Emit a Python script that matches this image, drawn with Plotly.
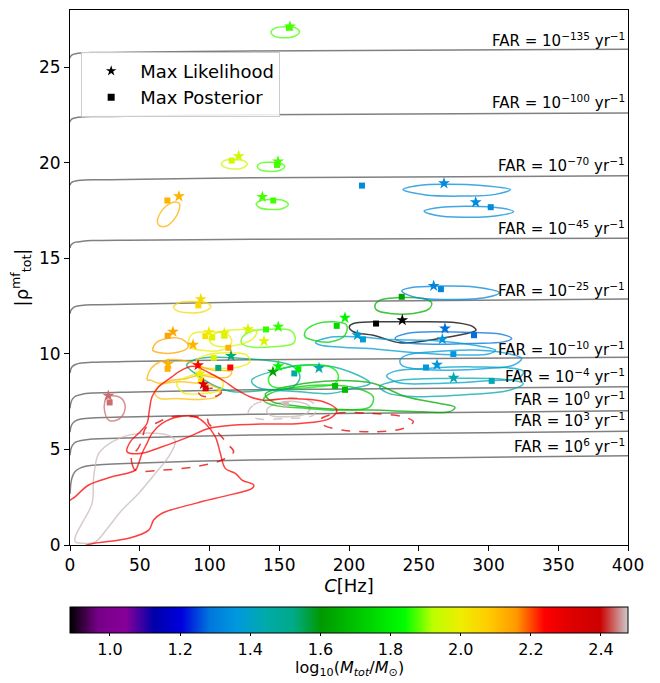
import plotly.graph_objects as go
from plotly.colors import sample_colorscale

# ---------------- colour map (nipy_spectral) ----------------
nipy_pos = [0.0, 0.05, 0.10, 0.15, 0.20, 0.25, 0.30, 0.35, 0.40, 0.45, 0.50,
            0.55, 0.60, 0.65, 0.70, 0.75, 0.80, 0.85, 0.90, 0.95, 1.0]
nipy_r = [0.0, 0.4667, 0.5333, 0.0, 0.0, 0.0, 0.0, 0.0, 0.0, 0.0, 0.0, 0.0, 0.0,
          0.7333, 0.9333, 1.0, 1.0, 1.0, 0.8667, 0.80, 0.80]
nipy_g = [0.0, 0.0, 0.0, 0.0, 0.0, 0.4667, 0.6, 0.6667, 0.6667, 0.6, 0.7333, 0.8667,
          1.0, 1.0, 0.9333, 0.8, 0.6, 0.0, 0.0, 0.0, 0.8]
nipy_b = [0.0, 0.5333, 0.6, 0.6667, 0.8667, 0.8667, 0.8667, 0.6667, 0.5333, 0.0, 0.0,
          0.0, 0.0, 0.0, 0.0, 0.0, 0.0, 0.0, 0.0, 0.0, 0.8]
nipy = [[p, "rgb(%d,%d,%d)" % (round(r * 255), round(g * 255), round(b * 255))]
        for p, r, g, b in zip(nipy_pos, nipy_r, nipy_g, nipy_b)]
LOGM_MIN, LOGM_MAX = 0.886, 2.477

# ---------------- FAR threshold curves ----------------
far_C = [0, 0.7, 2, 4, 8, 16, 40, 130, 400]
far_labels = ["−135", "−100", "−70", "−45", "−25", "−10", "−4", "0", "3", "6"]
far_m135 = [25.49, 25.60, 25.67, 25.71, 25.75, 25.77, 25.79, 25.86, 25.94]
far_m100 = [22.14, 22.25, 22.32, 22.36, 22.40, 22.42, 22.44, 22.52, 22.61]
far_m70 = [18.83, 18.94, 19.01, 19.05, 19.09, 19.11, 19.13, 19.22, 19.32]
far_m45 = [15.55, 15.70, 15.79, 15.85, 15.89, 15.93, 15.95, 16.00, 16.06]
far_m25 = [12.10, 12.29, 12.40, 12.48, 12.53, 12.57, 12.60, 12.72, 12.87]
far_m10 = [9.00, 9.23, 9.36, 9.45, 9.52, 9.56, 9.60, 9.70, 9.82]
far_m4 = [7.15, 7.47, 7.66, 7.79, 7.88, 7.95, 8.00, 8.12, 8.28]
far_p0 = [5.90, 6.20, 6.38, 6.50, 6.59, 6.65, 6.70, 6.84, 7.02]
far_p3 = [4.70, 5.04, 5.24, 5.38, 5.47, 5.55, 5.60, 5.76, 5.95]
far_p6 = [2.67, 3.28, 3.63, 3.87, 4.05, 4.17, 4.27, 4.45, 4.67]
far_label_rho = [26.41, 23.17, 19.87, 16.58, 13.34, 10.25, 8.84, 7.64, 6.54, 5.18]

# ---------------- contours (C [Hz], |rho|) ----------------
c_e1_C = [144, 147, 154, 162, 164.5, 160, 152, 146]
c_e1_r = [26.85, 27.05, 27.12, 27.05, 26.85, 26.6, 26.55, 26.65]
c_e2_C = [108.5, 111, 118, 125, 127, 123, 115, 110]
c_e2_r = [19.95, 20.13, 20.18, 20.1, 19.92, 19.72, 19.69, 19.8]
c_e3_C = [134.3, 137, 144, 151, 153.9, 150, 142, 136]
c_e3_r = [19.82, 20.0, 20.03, 19.98, 19.8, 19.6, 19.56, 19.65]
c_e4_C = [62.6, 64.5, 68.8, 74.1, 78.4, 77.7, 74.1, 68.8, 64.0]
c_e4_r = [16.91, 17.35, 17.73, 17.94, 17.87, 17.43, 17.0, 16.68, 16.72]
c_e5_C = [133.5, 137, 145, 153, 156.5, 152, 143, 136]
c_e5_r = [17.85, 18.03, 18.08, 18.03, 17.82, 17.6, 17.56, 17.65]
c_e6_C = [238.7, 250, 270, 295, 315.7, 305, 280, 255]
c_e6_r = [18.6, 18.82, 18.88, 18.82, 18.6, 18.35, 18.26, 18.32]
c_e7_C = [253.8, 262, 285, 310, 318, 305, 282, 262]
c_e7_r = [17.48, 17.64, 17.73, 17.62, 17.45, 17.22, 17.15, 17.26]
c_e8_C = [74.2, 78, 88, 98, 101, 96, 85, 77]
c_e8_r = [12.45, 12.68, 12.75, 12.68, 12.48, 12.22, 12.15, 12.25]
c_gr_C = [218.6, 222.2, 237.8, 253.3, 259.3, 256.9, 246.1, 229.4, 219.9]
c_gr_r = [12.55, 12.81, 12.95, 12.9, 12.67, 12.33, 12.12, 12.12, 12.29]
c_b1_C = [237.8, 245, 265, 290, 307.7, 298, 270, 248]
c_b1_r = [13.3, 13.48, 13.55, 13.5, 13.2, 12.95, 12.85, 12.95]
c_blk_C = [200.2, 203.1, 217.4, 241.4, 277.2, 289.1, 291, 284.4, 265.2, 248.5, 236.6, 217.4, 203.1]
c_blk_r = [11.42, 11.59, 11.68, 11.68, 11.63, 11.42, 11.24, 11.07, 10.81, 10.63, 10.58, 10.98, 11.16]
c_b2_C = [233, 241.4, 265.2, 289.1, 308.2, 316.6, 310.6, 289.1, 265.2, 241.4]
c_b2_r = [10.81, 11.07, 11.16, 11.12, 11.04, 10.81, 10.63, 10.55, 10.51, 10.58]
c_lb1_C = [176, 185, 205, 230, 260, 290, 305, 300, 280, 250, 220, 195, 180]
c_lb1_r = [10.6, 10.85, 10.9, 10.75, 10.7, 10.45, 10.2, 10.0, 9.95, 10.05, 10.25, 10.35, 10.45]
c_lb2_C = [236.6, 241.4, 260.5, 289.1, 313, 323.8, 317.8, 298.7, 272.4, 246.1, 237.8]
c_lb2_r = [9.68, 9.94, 10.11, 10.2, 10.03, 9.76, 9.41, 9.24, 9.15, 9.24, 9.41]
c_lb3_C = [227, 233, 257, 290, 325, 322, 300, 260, 235]
c_lb3_r = [8.85, 9.1, 9.25, 9.32, 9.1, 8.75, 8.6, 8.45, 8.5]
c_lb4_C = [222, 235, 270, 310, 325, 315, 280, 250, 228]
c_lb4_r = [8.3, 8.6, 8.72, 8.68, 8.45, 8.1, 7.85, 7.76, 7.95]
c_t1_C = [83.6, 88.4, 100.4, 124.2, 148.2, 160.1, 164.9, 160.1, 141, 117.1, 105.2, 93.2]
c_t1_r = [9.41, 9.67, 9.82, 9.76, 9.59, 9.33, 8.8, 8.28, 8.11, 8.02, 8.28, 8.8]
c_t2_C = [130.2, 148.2, 164.9, 193.5, 215, 203.1, 186.4, 164.9, 133.8]
c_t2_r = [8.63, 9.15, 9.41, 9.24, 8.46, 8.2, 7.93, 8.02, 8.28]
c_g1_C = [142.2, 145.7, 157.7, 169.7, 186.4, 192.3, 190, 176.8, 157.7, 144.6]
c_g1_r = [8.63, 9.07, 9.33, 9.41, 9.33, 8.89, 8.46, 8.28, 8.2, 8.32]
c_g2_C = [138.6, 143.4, 157.7, 181.6, 205.5, 217.4, 215, 193.5, 169.7, 145.7]
c_g2_r = [7.58, 7.93, 8.2, 8.37, 8.2, 7.76, 7.23, 7.06, 7.15, 7.32]
c_g3_C = [140, 160, 190, 217, 241, 265, 276, 272, 253, 217, 190, 160, 145]
c_g3_r = [7.9, 8.35, 8.6, 8.46, 7.76, 7.41, 7.2, 6.97, 6.97, 7.06, 7.1, 7.3, 7.5]
c_y1_C = [84.8, 88.4, 100.4, 112.3, 115.9, 109.9, 93.2, 86]
c_y1_r = [10.63, 11.07, 11.16, 11.07, 10.63, 10.23, 10.2, 10.37]
c_y2_C = [100.4, 107.5, 124.2, 133.8, 131.4, 119.5, 105.2, 100.4]
c_y2_r = [10.9, 11.16, 11.28, 11.21, 10.81, 10.46, 10.41, 10.63]
c_g4_C = [123.1, 129, 141, 157.7, 161.3, 160.1, 145.7, 129, 123.1]
c_g4_r = [10.81, 11.16, 11.28, 11.24, 10.9, 10.55, 10.37, 10.37, 10.55]
c_g5_C = [168.5, 174.4, 188.7, 198.3, 197.1, 186.4, 174.4, 168.5]
c_g5_r = [11.16, 11.51, 11.68, 11.51, 10.98, 10.63, 10.72, 10.9]
c_y3_C = [90.8, 98, 112.3, 126.7, 129, 121.9, 107.5, 93.2]
c_y3_r = [9.68, 9.94, 10.06, 9.94, 9.59, 9.33, 9.24, 9.33]
c_o1_C = [59.3, 62, 69.3, 76.5, 82, 84.8, 78, 64.5]
c_o1_r = [10.2, 10.6, 10.81, 10.84, 10.7, 10.37, 10.1, 10.06]
c_o2_C = [55.4, 57.3, 64.5, 74, 85, 95, 102.7, 115.9, 113.5, 102.7, 93.2, 83.6, 74, 64.5, 57.3]
c_o2_r = [8.63, 9.15, 9.59, 9.71, 9.6, 9.3, 9.15, 9.06, 8.8, 8.77, 8.89, 8.72, 8.63, 8.46, 8.63]
c_o3_C = [60.9, 64.5, 76.5, 88.4, 100.4, 107.5, 105.2, 93.2, 76.5, 64.5]
c_o3_r = [7.93, 8.37, 8.54, 8.49, 8.37, 8.11, 7.76, 7.62, 7.67, 7.67]
c_y4_C = [76.5, 83.6, 93.2, 105.2, 109.9, 107.5, 95.6, 81.2]
c_y4_r = [8.46, 8.8, 8.94, 8.8, 8.46, 8.11, 7.93, 7.97]
c_r1_C = [40.9, 43.2, 50.4, 55.2, 56.9, 58.8, 63.6, 73.1, 77.9, 88, 100, 110, 120, 129,
          138.6, 157.7, 181.6, 191.2, 186.4, 164.9, 137.6, 118.5, 99.4, 85.1, 66, 50.4]
c_r1_r = [4.88, 5.4, 5.93, 6.36, 7.06, 7.76, 8.28, 8.8, 9.06, 9.35, 9.0, 8.6, 8.1, 7.76,
          7.58, 7.67, 7.5, 7.06, 6.63, 6.36, 6.33, 6.28, 6.1, 5.66, 5.14, 4.79]
c_r2_C = [-3, 3.8, 13.4, 30.1, 46.8, 49.2, 51.6, 55.2, 58.8, 66, 77.9, 89.8, 97, 104.2,
          107.8, 111.3, 118.5, 123.3, 131.7, 130.5, 113.7, 89.8, 66, 60, 56.4, 42, 12.2, 5, -3]
c_r2_r = [2.1, 2.53, 3.14, 3.57, 3.92, 4.27, 4.79, 5.32, 5.84, 6.36, 6.71, 6.71, 6.36, 5.66,
          4.79, 4.01, 3.75, 3.4, 3.14, 2.96, 2.61, 2.18, 1.66, 1.31, 0.78, 0.35, 0.0, -0.3, -0.3]
c_rd1_C = [44.4, 44.4, 46.8, 66, 89.8, 109, 117.3, 113.7, 106.6, 99.4, 98.2, 89.8, 73.1, 61.2, 54, 51.6, 48]
c_rd1_r = [4.79, 4.27, 3.92, 3.92, 4.1, 4.45, 4.88, 5.23, 5.84, 6.36, 6.62, 6.71, 6.71, 6.36, 6.1, 5.49, 4.97]
c_rd2_C = [179.2, 191.2, 215, 238.9, 246.1, 238.9, 219.8, 195.9, 181.6]
c_rd2_r = [6.54, 6.89, 6.89, 6.71, 6.45, 6.1, 5.93, 6.01, 6.28]
c_rd3_C = [92.3, 96, 101, 106.5, 108.5, 105, 99, 94]
c_rd3_r = [7.98, 8.12, 8.2, 8.15, 7.97, 7.8, 7.76, 7.82]
c_gy1_C = [3.8, 8.6, 18, 27.7, 37.3, 49.2, 61.2, 70.7, 75.5, 73.1, 63.6, 42.1, 30.1, 20.6, 17, 15.8, 8.6, 3.8]
c_gy1_r = [0.17, 0.09, 0.15, 0.96, 1.83, 2.7, 3.75, 4.62, 5.4, 5.66, 5.84, 5.75, 5.4, 4.79, 3.57, 2.18, 1.13, 0.43]
c_gy2_C = [141, 148.2, 162.5, 172, 169.7, 155.3, 143.4]
c_gy2_r = [7.06, 7.41, 7.5, 7.23, 6.89, 6.71, 6.8]
c_gy3_C = [127.8, 131.4, 143.4, 167.2, 176.8, 174.4, 155.3, 133.8]
c_gy3_r = [6.89, 7.32, 7.58, 7.67, 7.23, 6.8, 6.62, 6.62]
c_rose_C = [26.5, 34.9, 39.2, 38.5, 33.7, 27.7, 24.9, 24.9]
c_rose_r = [7.76, 7.76, 7.41, 6.89, 6.54, 6.54, 6.97, 7.5]

# ---------------- Max-likelihood (stars) and max-posterior (squares) ----------------
star_C = [157.7, 120.9, 149.1, 78.1, 137.9, 268.1, 290.8, 93.7, 73.8, 88.2, 99.6, 110.6,
          127.6, 149.3, 139.1, 197.1, 238.2, 260.7, 268.8, 206, 266.9, 263.1, 275, 115.4,
          91.8, 70.3, 93.2, 95.6, 145.5, 149.3, 178.5, 27.5]
star_rho = [27.14, 20.35, 20.07, 18.25, 18.22, 18.93, 17.94, 12.87, 11.16, 10.48, 11.14, 11.09,
            11.30, 11.42, 10.67, 11.89, 11.77, 13.56, 11.33, 10.98, 10.77, 9.43, 8.75, 9.9,
            9.41, 9.48, 8.98, 8.42, 9.07, 9.36, 9.26, 7.81]
star_logM = [1.87, 1.95, 1.87, 2.12, 1.87, 1.33, 1.33, 2.05, 2.14, 2.12, 2.0, 1.98,
             1.96, 1.86, 1.97, 1.82, 0.886, 1.32, 1.28, 1.38, 1.36, 1.36, 1.43, 1.53,
             2.24, 2.12, 2.0, 2.34, 1.62, 1.82, 1.45, 2.44]
sq_C = [157, 115.9, 148.4, 69.8, 145.7, 209.3, 301.6, 92, 70, 97, 102, 110.6, 113.5, 140.5,
        191.2, 219.4, 265.9, 237.8, 289.6, 210, 274.8, 255.2, 302.3, 103, 106.3, 114.9, 70,
        94.1, 97.2, 160.8, 163.7, 190, 197.1, 154.8, 28.4]
sq_rho = [27.07, 20.12, 19.89, 18.03, 18.03, 18.81, 17.68, 12.54, 10.95, 10.93, 10.86, 10.95,
          10.32, 11.28, 11.47, 11.59, 13.39, 12.99, 10.98, 10.76, 9.99, 9.29, 8.59, 9.8, 9.27,
          9.29, 9.22, 8.63, 8.2, 8.98, 9.2, 8.32, 8.12, 7.36, 7.46]
sq_logM = [1.87, 1.95, 1.87, 2.12, 1.87, 1.33, 1.33, 2.05, 2.14, 2.03, 1.98, 1.98, 2.12, 1.86,
           1.75, 0.886, 1.32, 1.62, 1.28, 1.38, 1.36, 1.36, 1.43, 1.96, 1.53, 2.24, 2.12,
           2.04, 2.34, 1.45, 1.8, 1.7, 1.68, 2.47, 2.44]

# contour table: (C list, rho list, log10 mass, dash)
contours = [
    (c_e1_C, c_e1_r, 1.87, "solid"), (c_e2_C, c_e2_r, 1.95, "solid"),
    (c_e3_C, c_e3_r, 1.87, "solid"), (c_e4_C, c_e4_r, 2.12, "solid"),
    (c_e5_C, c_e5_r, 1.87, "solid"), (c_e6_C, c_e6_r, 1.33, "solid"),
    (c_e7_C, c_e7_r, 1.33, "solid"), (c_e8_C, c_e8_r, 2.05, "solid"),
    (c_gr_C, c_gr_r, 1.66, "solid"), (c_b1_C, c_b1_r, 1.32, "solid"),
    (c_blk_C, c_blk_r, 0.886, "solid"), (c_b2_C, c_b2_r, 1.28, "solid"),
    (c_lb1_C, c_lb1_r, 1.38, "solid"), (c_lb2_C, c_lb2_r, 1.36, "solid"),
    (c_lb3_C, c_lb3_r, 1.40, "solid"), (c_lb4_C, c_lb4_r, 1.43, "solid"),
    (c_gy1_C, c_gy1_r, 2.47, "solid"), (c_gy2_C, c_gy2_r, 2.47, "solid"),
    (c_gy3_C, c_gy3_r, 2.47, "dash"), (c_rose_C, c_rose_r, 2.44, "solid"),
    (c_g3_C, c_g3_r, 1.64, "solid"), (c_g2_C, c_g2_r, 1.72, "solid"),
    (c_t2_C, c_t2_r, 1.45, "solid"), (c_g1_C, c_g1_r, 1.80, "solid"),
    (c_t1_C, c_t1_r, 1.53, "solid"), (c_g4_C, c_g4_r, 1.88, "solid"),
    (c_g5_C, c_g5_r, 1.75, "solid"), (c_y1_C, c_y1_r, 2.0, "solid"),
    (c_y2_C, c_y2_r, 1.97, "solid"), (c_y3_C, c_y3_r, 1.99, "solid"),
    (c_o1_C, c_o1_r, 2.14, "solid"), (c_o2_C, c_o2_r, 2.12, "solid"),
    (c_o3_C, c_o3_r, 2.10, "solid"), (c_y4_C, c_y4_r, 2.0, "solid"),
    (c_r1_C, c_r1_r, 2.24, "solid"), (c_r2_C, c_r2_r, 2.24, "solid"),
    (c_rd1_C, c_rd1_r, 2.30, "dash"), (c_rd2_C, c_rd2_r, 2.30, "dash"),
    (c_rd3_C, c_rd3_r, 2.34, "dash"),
]
far_curves = [far_m135, far_m100, far_m70, far_m45, far_m25, far_m10, far_m4, far_p0, far_p3, far_p6]


def mass_color(m):
    t = (m - LOGM_MIN) / (LOGM_MAX - LOGM_MIN)
    t = min(max(t, 0.0), 1.0)
    return sample_colorscale(nipy, [t])[0]


FONT = "DejaVu Sans"
fig = go.Figure()

for rho in far_curves:
    fig.add_trace(go.Scatter(x=far_C, y=rho, mode="lines", showlegend=False,
                             line=dict(color="rgb(128,128,128)", width=1.5, shape="spline", smoothing=0.6),
                             hoverinfo="skip"))

for xs, ys, m, dash in contours:
    fig.add_trace(go.Scatter(x=xs + xs[:1], y=ys + ys[:1], mode="lines", showlegend=False,
                             opacity=0.75,
                             line=dict(color=mass_color(m), width=1.5, dash=dash,
                                       shape="spline", smoothing=1.0),
                             hoverinfo="skip"))

fig.add_trace(go.Scatter(x=sq_C, y=sq_rho, mode="markers", showlegend=False,
                         marker=dict(symbol="square", size=6, color=sq_logM, colorscale=nipy,
                                     cmin=LOGM_MIN, cmax=LOGM_MAX, line=dict(width=0))))
fig.add_trace(go.Scatter(x=star_C, y=star_rho, mode="markers", showlegend=False,
                         marker=dict(symbol="star", size=9, color=star_logM, colorscale=nipy,
                                     cmin=LOGM_MIN, cmax=LOGM_MAX, line=dict(width=0),
                                     showscale=True,
                                     colorbar=dict(orientation="h", x=0.5, xanchor="center",
                                                   y=-0.115, yanchor="top", len=1.0, lenmode="fraction",
                                                   thickness=26, thicknessmode="pixels",
                                                   xpad=0, ypad=0, outlinewidth=1, outlinecolor="black",
                                                   tickvals=[1.0, 1.2, 1.4, 1.6, 1.8, 2.0, 2.2, 2.4],
                                                   ticktext=["1.0", "1.2", "1.4", "1.6", "1.8", "2.0", "2.2", "2.4"],
                                                   ticks="outside", ticklen=3, tickcolor="black",
                                                   tickfont=dict(family=FONT, size=16, color="black")))))

# colour bar title
fig.add_annotation(x=0.5, y=-0.231, xref="paper", yref="paper", xanchor="center", yanchor="middle",
                   showarrow=False,
                   text="log<sub>10</sub>(<i>M</i><sub><i>tot</i></sub>/<i>M</i><sub>⊙</sub>)",
                   font=dict(family=FONT, size=16, color="black"))

# legend entries
fig.add_trace(go.Scatter(x=[None], y=[None], mode="markers", name="Max Likelihood",
                         marker=dict(symbol="star", size=8, color="black")))
fig.add_trace(go.Scatter(x=[None], y=[None], mode="markers", name="Max Posterior",
                         marker=dict(symbol="square", size=7, color="black")))

for lab, yv in zip(far_labels, far_label_rho):
    fig.add_annotation(x=399, y=yv, xref="x", yref="y", xanchor="right", yanchor="middle",
                       showarrow=False,
                       text="FAR = 10<sup>%s</sup> yr<sup>−1</sup>" % lab,
                       font=dict(family=FONT, size=15, color="black"))

# the page adds an 8 px body margin, so the figure is 8 px smaller and margins shifted
fig.update_layout(
    width=652, height=675,
    margin=dict(l=62, r=32, t=2, b=138, autoexpand=False),
    paper_bgcolor="white", plot_bgcolor="white",
    font=dict(family=FONT, size=17, color="black"),
    legend=dict(x=0.02, y=0.922, xanchor="left", yanchor="top",
                bgcolor="rgba(255,255,255,0.85)", bordercolor="#cccccc", borderwidth=1,
                font=dict(family=FONT, size=18, color="black"), itemwidth=48,
                tracegroupgap=2),
    xaxis=dict(range=[0, 400], tickvals=[0, 50, 100, 150, 200, 250, 300, 350, 400],
               showgrid=False, zeroline=False, showline=True, mirror=True, linecolor="black",
               linewidth=1, ticks="outside", ticklen=5, tickcolor="black",
               tickfont=dict(family=FONT, size=17),
               title=dict(text="<i>C</i>[Hz]", font=dict(family=FONT, size=18), standoff=4)),
    yaxis=dict(range=[0, 28], tickvals=[0, 5, 10, 15, 20, 25],
               showgrid=False, zeroline=False, showline=True, mirror=True, linecolor="black",
               linewidth=1, ticks="outside", ticklen=5, tickcolor="black",
               tickfont=dict(family=FONT, size=17),
               title=dict(text="|ρ<sup>mf</sup><sub>tot</sub>|", font=dict(family=FONT, size=18), standoff=6)),
)

fig.write_html("out.html")
